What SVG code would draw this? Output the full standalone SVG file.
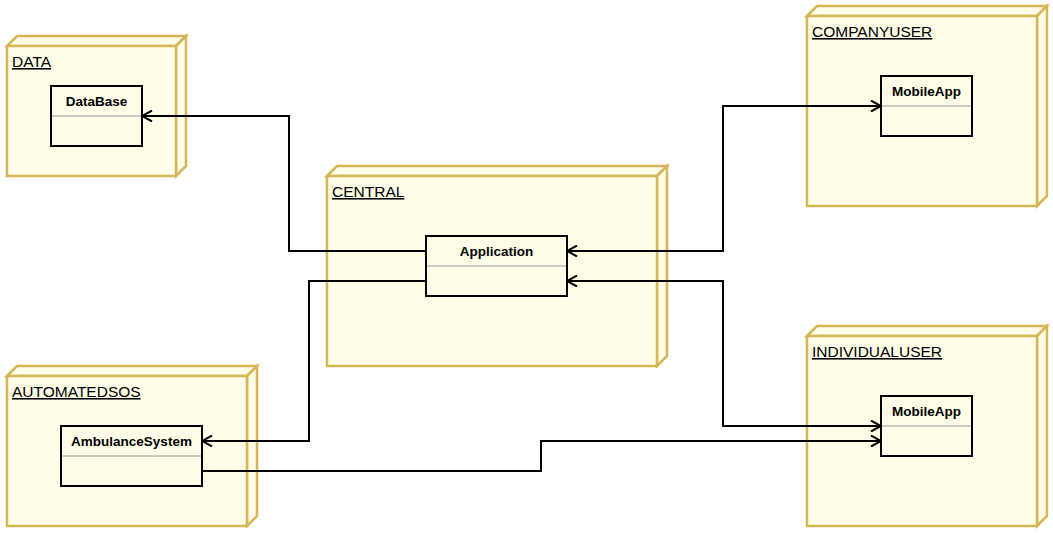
<svg xmlns="http://www.w3.org/2000/svg" width="1053" height="533" viewBox="0 0 1053 533">
<defs>
<style>
.face{fill:#fffde8;stroke:#d6b656;stroke-width:2.5;stroke-linejoin:miter}
.nlabel{font-family:"Liberation Sans",Arial,sans-serif;font-size:15.5px;fill:#000;text-decoration:underline}
.cbox{fill:none;stroke:#000;stroke-width:2}
.div{stroke:#999;stroke-width:1}
.ctitle{font-family:"Liberation Sans",Arial,sans-serif;font-size:13.5px;font-weight:bold;fill:#000;text-anchor:middle}
.conn{fill:none;stroke:#000;stroke-width:2}
</style>
<marker id="open" viewBox="0 0 12 12" refX="11" refY="6" markerWidth="12" markerHeight="12" markerUnits="userSpaceOnUse" orient="auto-start-reverse">
<path d="M1,0.5 L11,6 L1,11.5" fill="none" stroke="#000" stroke-width="2"/>
</marker>
</defs>
<rect width="1053" height="533" fill="#fff"/>

<g id="node-data">
<path class="face" d="M7,46 L17,36 L186,36 L176,46 Z"/>
<path class="face" d="M176,46 L186,36 L186,166 L176,176 Z"/>
<rect class="face" x="7" y="46" width="169" height="130"/>
<text class="nlabel" x="12" y="67">DATA</text>
</g>
<g id="class-database">
<rect class="cbox" x="51" y="86" width="91" height="60"/>
<line class="div" x1="52" y1="116" x2="141" y2="116"/>
<text class="ctitle" x="96.5" y="105.5">DataBase</text>
</g>

<g id="node-central">
<path class="face" d="M327,176 L337,166 L667,166 L657,176 Z"/>
<path class="face" d="M657,176 L667,166 L667,356 L657,366 Z"/>
<rect class="face" x="327" y="176" width="330" height="190"/>
<text class="nlabel" x="332" y="197">CENTRAL</text>
</g>
<g id="class-application">
<rect class="cbox" x="426" y="236" width="141" height="60"/>
<line class="div" x1="427" y1="266" x2="566" y2="266"/>
<text class="ctitle" x="496.5" y="255.5">Application</text>
</g>

<g id="node-companyuser">
<path class="face" d="M807,16 L817,6 L1047,6 L1037,16 Z"/>
<path class="face" d="M1037,16 L1047,6 L1047,196 L1037,206 Z"/>
<rect class="face" x="807" y="16" width="230" height="190"/>
<text class="nlabel" x="812" y="37">COMPANYUSER</text>
</g>
<g id="class-mobileapp-company">
<rect class="cbox" x="881" y="76" width="91" height="60"/>
<line class="div" x1="882" y1="106" x2="971" y2="106"/>
<text class="ctitle" x="926.5" y="95.5">MobileApp</text>
</g>

<g id="node-individualuser">
<path class="face" d="M807,336 L817,326 L1047,326 L1037,336 Z"/>
<path class="face" d="M1037,336 L1047,326 L1047,516 L1037,526 Z"/>
<rect class="face" x="807" y="336" width="230" height="190"/>
<text class="nlabel" x="812" y="357">INDIVIDUALUSER</text>
</g>
<g id="class-mobileapp-individual">
<rect class="cbox" x="881" y="396" width="91" height="60"/>
<line class="div" x1="882" y1="426" x2="971" y2="426"/>
<text class="ctitle" x="926.5" y="415.5">MobileApp</text>
</g>

<g id="node-automatedsos">
<path class="face" d="M7,376 L17,366 L257,366 L247,376 Z"/>
<path class="face" d="M247,376 L257,366 L257,516 L247,526 Z"/>
<rect class="face" x="7" y="376" width="240" height="150"/>
<text class="nlabel" x="12" y="397">AUTOMATEDSOS</text>
</g>
<g id="class-ambulancesystem">
<rect class="cbox" x="61" y="426" width="141" height="60"/>
<line class="div" x1="62" y1="456" x2="201" y2="456"/>
<text class="ctitle" x="131.5" y="445.5">AmbulanceSystem</text>
</g>

<g id="connectors">
<path class="conn" d="M426,251 H289 V116 H142" marker-end="url(#open)"/>
<path class="conn" d="M426,281 H309 V441 H202" marker-end="url(#open)"/>
<path class="conn" d="M567,251 H723 V106 H881" marker-start="url(#open)" marker-end="url(#open)"/>
<path class="conn" d="M567,281 H723 V426 H881" marker-start="url(#open)" marker-end="url(#open)"/>
<path class="conn" d="M202,471 H541 V441 H881" marker-end="url(#open)"/>
</g>
</svg>
